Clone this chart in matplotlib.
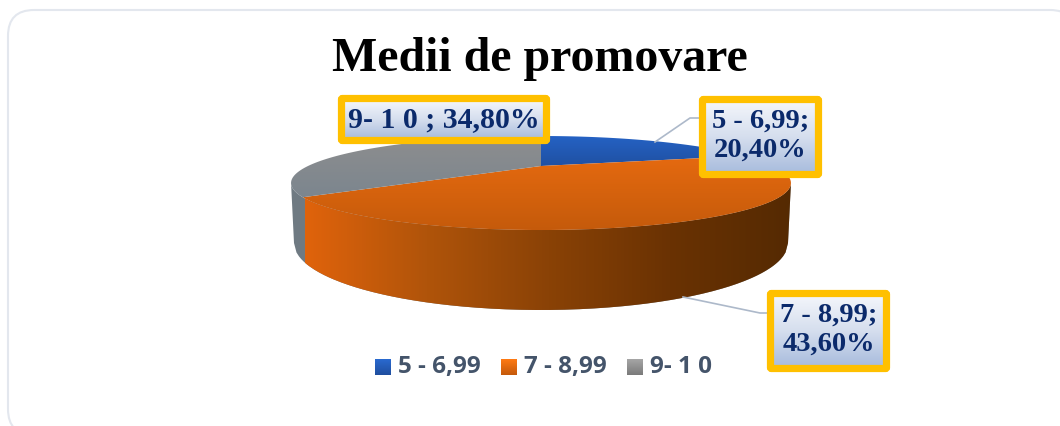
import numpy as np
import matplotlib
matplotlib.use('Agg')
import matplotlib.pyplot as plt
from matplotlib.colors import LinearSegmentedColormap
from matplotlib.patches import FancyBboxPatch, PathPatch
from matplotlib.path import Path

categories = ['5 - 6,99', '7 - 8,99', '9- 1 0']
values = [20.40, 43.60, 34.80]
data_labels = ['5 - 6,99;\n20,40%', '7 - 8,99;\n43,60%', '9- 1 0 ; 34,80%']
title = 'Medii de promovare'

W, H = 1060, 426
fig = plt.figure(figsize=(W / 100, H / 100), dpi=100)
ax = fig.add_axes([0, 0, 1, 1])
ax.set_xlim(0, W)
ax.set_ylim(H, 0)
ax.axis('off')

# card behind the chart
ax.add_patch(FancyBboxPatch((8, 10), 1068, 425, boxstyle='round,pad=0,rounding_size=26',
                            fc='white', ec='#E3E7EE', lw=1.5))


def cmap(*cols):
    return LinearSegmentedColormap.from_list('c', cols)


def gradient(path, cols, box, horizontal=False, z=2):
    x0, x1, y0, y1 = box
    g = np.linspace(0, 1, 256)
    g = g[None, :] if horizontal else g[:, None]
    im = ax.imshow(g, cmap=cmap(*cols), extent=[x0, x1, y1, y0], aspect='auto', zorder=z,
                   origin='upper')
    im.set_clip_path(PathPatch(path, transform=ax.transData))
    ax.set_xlim(0, W)
    ax.set_ylim(H, 0)


# perspective pie: slice angles go through a projective map of the unit circle
cx, apex_y = 541, 166
p, A, B = 0.362, 233, 40.85


def rim(theta):
    u, v = np.sin(theta), np.cos(theta)
    d = 1 + p * v
    return cx + A * u / d, apex_y - B * v / d


def wedge_path(t0, t1):
    t = np.linspace(t0, t1, 120)
    x, y = rim(t)
    pts = [(cx, apex_y)] + list(zip(x, y)) + [(cx, apex_y)]
    return Path(pts)


total = sum(values)
edges = np.cumsum([0] + values) / total * 2 * np.pi

# lower rim of the body
bot_cy, bot_a, bot_b = 243, 247, 67


def lower(xs):
    return bot_cy + bot_b * np.sqrt(np.clip(1 - ((xs - cx) / bot_a) ** 2, 0, 1))


# widest points of the top face
t_right = np.arccos(-p)
t_left = 2 * np.pi - t_right

xl, xr = cx - bot_a, cx + bot_a
xs = np.linspace(xl, xr, 200)
tt = np.linspace(t_right, t_left, 200)
rx, ry = rim(tt)

# grey side, whole body
body = Path(list(zip(rx, ry)) + list(zip(xs, lower(xs))) + [(rx[0], ry[0])])
gradient(body, ['#6F7A82', '#8C8C8C'], (290, 800, 180, 312), horizontal=True, z=2)

# orange side starts at the grey/orange boundary
bx, by = rim(edges[2])
xs_o = np.linspace(bx + 2, xr, 200)
t_o = np.linspace(t_right, edges[2], 200)
ox, oy = rim(t_o)
side_o = Path(list(zip(ox, oy)) + list(zip(xs_o, lower(xs_o))) + [(ox[0], oy[0])])
gradient(side_o, ['#E0630C', '#B0540A', '#8A4206', '#6A3203', '#552A02'], (305, 792, 180, 312),
         horizontal=True, z=3)

# top faces
slice_cols = [['#2563C6', '#1F4E9E'], ['#E86B10', '#C45A0B'], ['#8E8E8E', '#78848E']]
slice_box = [(540, 780, 134, 170), (300, 795, 150, 232), (288, 545, 134, 210)]
for i in range(3):
    gradient(wedge_path(edges[i], edges[i + 1]), slice_cols[i], slice_box[i], z=4)

# leader lines
ax.plot([655, 690, 700], [142, 118, 118], color='#ADB9CA', lw=1.2, zorder=5)
ax.plot([683, 760, 768], [297, 313, 313], color='#ADB9CA', lw=1.2, zorder=5)

# data labels
label_boxes = [(699, 96, 123, 82), (767, 290, 123, 82), (338, 95, 212, 49)]
for text, (x, y, w, h) in zip(data_labels, label_boxes):
    frame = FancyBboxPatch((x + 3.5, y + 3.5), w - 7, h - 7, boxstyle='round,pad=0,rounding_size=1',
                           fc='none', ec='#FFC000', lw=5.2, zorder=7)
    ax.add_patch(frame)
    inner = Path([(x + 5, y + 5), (x + w - 5, y + 5), (x + w - 5, y + h - 5), (x + 5, y + h - 5), (x + 5, y + 5)])
    gradient(inner, ['#F4F6FB', '#D5DEEE', '#A8BCDD'], (x + 5, x + w - 5, y + 5, y + h - 5), z=6)
    two_lines = '\n' in text
    ax.text(x + w / 2, y + h / 2 + (-1 if two_lines else 0.5), text, ha='center', va='center',
            family='Liberation Serif', weight='bold', fontsize=20.5 if two_lines else 21.5,
            color='#0B2A6B', linespacing=1.2, zorder=8)

# legend
leg_x = [375, 501, 627]
text_x = [398, 524, 650]
leg_cols = [['#2A6AD0', '#1F4E9E'], ['#FF7A14', '#C45A0B'], ['#A6A6A6', '#7A7A7A']]
for name, lx, tx, c in zip(categories, leg_x, text_x, leg_cols):
    sq = Path([(lx, 359), (lx + 16, 359), (lx + 16, 375), (lx, 375), (lx, 359)])
    gradient(sq, c, (lx, lx + 16, 359, 375), z=4)
    ax.text(tx, 367, name, ha='left', va='center', family='Open Sans', weight='bold',
            fontsize=17.5, color='#44546A')

ax.text(540, 59, title, ha='center', va='center', family='Liberation Serif', weight='bold',
        fontsize=34.5, color='black')

fig.savefig('out.png', dpi=100)
